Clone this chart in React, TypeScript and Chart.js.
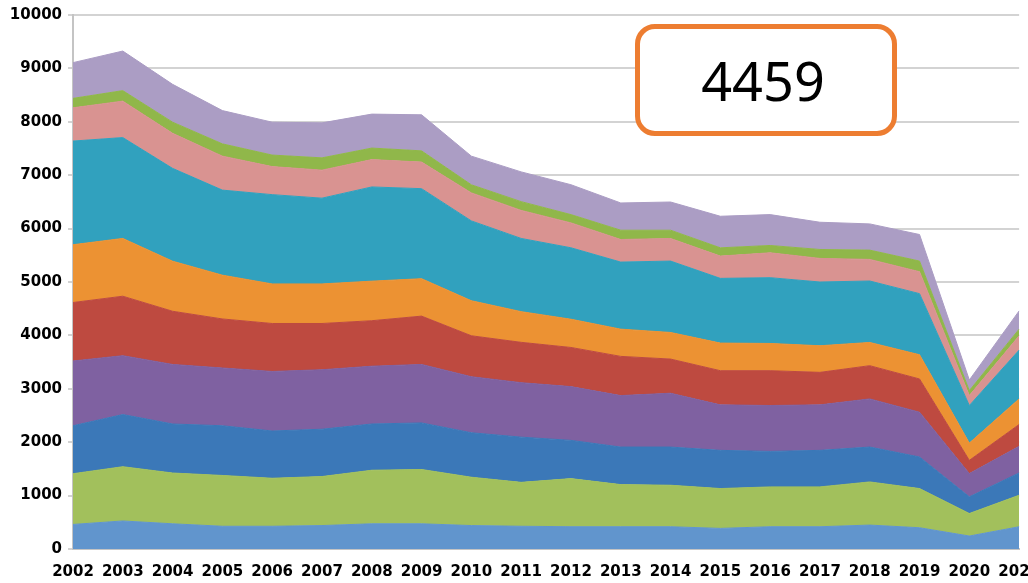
import React, { useEffect, useRef } from "react";
import { Chart, registerables } from "chart.js";

Chart.register(...registerables);

const years = [
  "2002", "2003", "2004", "2005", "2006", "2007", "2008", "2009", "2010", "2011",
  "2012", "2013", "2014", "2015", "2016", "2017", "2018", "2019", "2020", "2021",
];

const seriesNames = [
  "Series 1", "Series 2", "Series 3", "Series 4", "Series 5",
  "Series 6", "Series 7", "Series 8", "Series 9", "Series 10",
];

const series1 = [460, 525, 472, 426, 426, 439, 472, 472, 439, 426, 417, 417, 417, 386, 417, 417, 448, 398, 243, 417];
const series2 = [950, 1016, 951, 951, 899, 918, 1003, 1017, 905, 822, 901, 789, 777, 746, 746, 746, 808, 734, 422, 590];
const series3 = [898, 977, 918, 931, 885, 886, 866, 872, 833, 847, 716, 703, 715, 715, 665, 684, 653, 591, 312, 417];
const series4 = [1213, 1102, 1115, 1082, 1115, 1114, 1082, 1095, 1049, 1020, 1007, 964, 1008, 852, 859, 852, 902, 839, 435, 498];
const series5 = [1095, 1114, 996, 918, 898, 866, 852, 905, 767, 755, 733, 734, 640, 640, 652, 609, 622, 622, 248, 410];
const series6 = [1082, 1082, 938, 820, 741, 741, 741, 701, 656, 575, 529, 510, 498, 517, 510, 498, 435, 454, 323, 479];
const series7 = [1941, 1889, 1738, 1593, 1672, 1606, 1764, 1686, 1495, 1371, 1338, 1256, 1337, 1212, 1232, 1194, 1151, 1144, 704, 914];
const series8 = [623, 682, 656, 636, 525, 525, 512, 498, 525, 525, 466, 423, 423, 417, 466, 442, 404, 411, 186, 268];
const series9 = [177, 197, 209, 230, 216, 230, 216, 210, 151, 164, 155, 174, 155, 155, 137, 167, 174, 199, 93, 124];
const series10 = [669, 741, 709, 623, 616, 655, 636, 675, 537, 557, 560, 510, 528, 591, 578, 510, 491, 497, 199, 342];

const seriesColors = [
  "#6195cd", "#a2c05c", "#3b78b8", "#7f61a1", "#be4a40",
  "#ec9233", "#31a1be", "#d99391", "#90b74a", "#ab9dc4",
];

const calloutText = "4459";

export default function App() {
  const ref = useRef<HTMLCanvasElement | null>(null);

  useEffect(() => {
    const all = [series1, series2, series3, series4, series5, series6, series7, series8, series9, series10];
    const chart = new Chart(ref.current as HTMLCanvasElement, {
      type: "line",
      data: {
        labels: years,
        datasets: all.map((d, i) => ({
          label: seriesNames[i],
          data: d,
          backgroundColor: seriesColors[i],
          borderColor: seriesColors[i],
          borderWidth: 1,
          pointRadius: 0,
          tension: 0,
          fill: i === 0 ? "origin" : "-1",
        })),
      },
      options: {
        animation: false,
        responsive: false,
        layout: { padding: { top: 14, left: 0, right: 0, bottom: 0 } },
        plugins: {
          legend: { display: false },
          tooltip: { enabled: false },
        },
        scales: {
          x: {
            offset: false,
            grid: { display: false, drawTicks: false },
            border: { display: true, color: "#c4c4c4", width: 2 },
            ticks: {
              autoSkip: false,
              maxRotation: 0,
              minRotation: 0,
              padding: 14,
              color: "#000",
              font: { family: "'DejaVu Sans'", size: 15, weight: "bold" },
            },
            afterFit: (s: any) => {
              s.height = 34;
            },
          },
          y: {
            stacked: true,
            min: 0,
            max: 10000,
            ticks: {
              stepSize: 1000,
              padding: 6,
              color: "#000",
              font: { family: "'DejaVu Sans'", size: 15, weight: "bold" },
              callback: (v: any) => String(v),
            },
            grid: { color: "#d3d3d3", lineWidth: 2, tickLength: 5 },
            border: { display: true, color: "#c4c4c4", width: 2 },
            afterFit: (s: any) => {
              s.width = 73;
            },
          },
        },
      },
    });
    return () => chart.destroy();
  }, []);

  return (
    <div
      style={{
        position: "fixed",
        left: 0,
        top: 0,
        width: 1028,
        height: 583,
        overflow: "hidden",
        background: "#fff",
      }}
    >
      <canvas ref={ref} width={1054} height={583} style={{ display: "block", width: 1054, height: 583 }} />
      <div
        style={{
          position: "absolute",
          left: 635,
          top: 24,
          width: 262,
          height: 112,
          boxSizing: "border-box",
          border: "5px solid #ed7d31",
          borderRadius: 20,
          background: "#fff",
          display: "flex",
          alignItems: "center",
          justifyContent: "center",
          fontFamily: "'Noto Sans', 'Open Sans', sans-serif",
          fontSize: 54,
          color: "#000",
          lineHeight: 1,
          paddingRight: 6,
        }}
      >
        {calloutText}
      </div>
    </div>
  );
}
